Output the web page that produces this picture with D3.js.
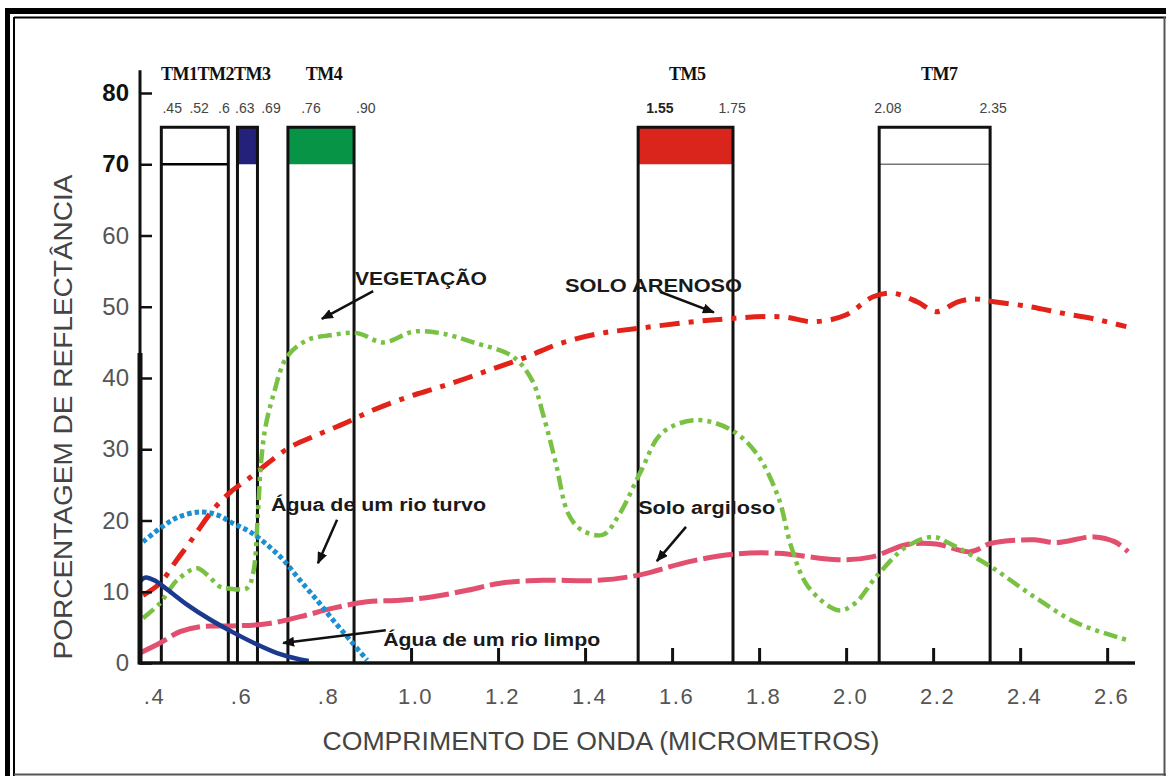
<!DOCTYPE html>
<html>
<head>
<meta charset="utf-8">
<script src="https://cdnjs.cloudflare.com/ajax/libs/d3/7.8.5/d3.min.js"></script>
<style>
  body { margin: 0; background: #fff; }
  svg { display: block; font-family: Arial, "Liberation Sans", sans-serif; }
</style>
</head>
<body>
<div id="chart"></div>
<script>
// ---- data (wavelength in micrometres, reflectance in %) ----
var yTicks = [0, 10, 20, 30, 40, 50, 60, 70, 80];
var xTicks = [0.4, 0.6, 0.8, 1.0, 1.2, 1.4, 1.6, 1.8, 2.0, 2.2, 2.4, 2.6];

// Landsat TM band boxes as drawn (left / right edge), with header colour
var bandBoxes = [
  {start: 0.426, end: 0.580, fill: null,      mid: "#000"},
  {start: 0.601, end: 0.647, fill: "#24217a", mid: null},
  {start: 0.717, end: 0.869, fill: "#079447", mid: null},
  {start: 1.522, end: 1.740, fill: "#da251d", mid: null},
  {start: 2.076, end: 2.331, fill: null,      mid: "#777"}
];
var boxTop = 75.2, boxMid = 70;

var bandNames = [
  {name: "TM1TM2TM3", at: 0.551},
  {name: "TM4", at: 0.800},
  {name: "TM5", at: 1.635},
  {name: "TM7", at: 2.214}
];
var bandLimits = [
  {t: ".45", at: 0.451}, {t: ".52", at: 0.513}, {t: ".6", at: 0.570},
  {t: ".63", at: 0.618}, {t: ".69", at: 0.678}, {t: ".76", at: 0.770},
  {t: ".90", at: 0.896}, {t: "1.55", at: 1.572, bold: true}, {t: "1.75", at: 1.738},
  {t: "2.08", at: 2.096}, {t: "2.35", at: 2.338}
];

var vegetacao = [
  [0.384, 6.3], [0.423, 8.4], [0.462, 11.6], [0.508, 13.3], [0.531, 12.4],
  [0.561, 10.7], [0.577, 10.5], [0.623, 10.5], [0.637, 12.6], [0.648, 21],
  [0.655, 28], [0.665, 33], [0.683, 37.5], [0.715, 43], [0.761, 45.3],
  [0.814, 46], [0.876, 46.3], [0.936, 45], [1.005, 46.5], [1.067, 46.3],
  [1.143, 45], [1.234, 43], [1.278, 39.7], [1.303, 35], [1.333, 28],
  [1.361, 21], [1.391, 18.7], [1.441, 18], [1.48, 21], [1.529, 27],
  [1.577, 32.3], [1.657, 34.1], [1.736, 32.7], [1.793, 29.5], [1.844, 23.3],
  [1.874, 16.3], [1.913, 10.7], [1.982, 7.4], [2.021, 8.4], [2.069, 12.1],
  [2.138, 16.3], [2.2, 17.7], [2.237, 16.8], [2.333, 13.5], [2.432, 9.3],
  [2.531, 5.6], [2.648, 3.2]
];
var soloArenoso = [
  [0.384, 9.5], [0.423, 11.2], [0.462, 14.5], [0.49, 16.8], [0.515, 19],
  [0.545, 21.5], [0.585, 24], [0.625, 25.8], [0.67, 28], [0.722, 30.3],
  [0.784, 32], [0.853, 33.8], [0.913, 35.5], [0.991, 37.3], [1.06, 38.6],
  [1.129, 40], [1.198, 41.5], [1.267, 43], [1.34, 44.8], [1.43, 46.2],
  [1.526, 47], [1.685, 48.1], [1.851, 48.6], [1.924, 47.9], [1.998, 48.8],
  [2.062, 51.4], [2.108, 51.9], [2.163, 50.7], [2.207, 49.3], [2.257, 50.7],
  [2.294, 51.1], [2.34, 50.7], [2.423, 50], [2.497, 49.1], [2.57, 48.3],
  [2.644, 47.2]
];
var soloArgiloso = [
  [0.377, 1.4], [0.423, 2.8], [0.469, 4.4], [0.515, 5.1], [0.591, 5.2],
  [0.669, 5.5], [0.745, 6.5], [0.821, 7.7], [0.899, 8.6], [0.975, 8.8],
  [1.05, 9.3], [1.129, 10.2], [1.205, 11.2], [1.303, 11.6], [1.43, 11.6],
  [1.529, 12.4], [1.637, 14.2], [1.745, 15.3], [1.844, 15.4], [1.982, 14.5],
  [2.06, 14.9], [2.138, 16.6], [2.207, 16.7], [2.285, 15.6], [2.333, 16.8],
  [2.432, 17.3], [2.483, 16.9], [2.57, 17.7], [2.618, 17], [2.648, 15.6]
];
var aguaTurva = [
  [0.384, 17], [0.423, 18.9], [0.462, 20.4], [0.515, 21.2], [0.554, 20.8],
  [0.591, 19.6], [0.63, 18.4], [0.669, 16.6], [0.706, 14.5], [0.745, 11.6],
  [0.784, 8.8], [0.821, 6], [0.86, 3.2], [0.899, 0.4]
];
var aguaLimpa = [
  [0.377, 11.5], [0.39, 12], [0.41, 11.6], [0.44, 10.3], [0.485, 8.2],
  [0.538, 6.1], [0.591, 4.3], [0.646, 2.6], [0.692, 1.4], [0.745, 0.5],
  [0.765, 0.3]
];

// annotation text anchors and arrows (data units)
var notes = [
  {t: "VEGETAÇÃO", at: [0.871, 53.05], len: 132, from: [0.913, 52.2], to: [0.795, 48.3]},
  {t: "SOLO ARENOSO", at: [1.354, 52.1], len: 177, from: [1.572, 52.1], to: [1.696, 49.2]},
  {t: "Água de um rio turvo", at: [0.678, 21.3], len: 215, from: [0.830, 20.1], to: [0.786, 14.0]},
  {t: "Solo argiloso", at: [1.522, 20.9], len: 137, from: [1.632, 19.1], to: [1.565, 14.3]},
  {t: "Água de um rio limpo", at: [0.936, 2.4], len: 217, from: [0.942, 4.6], to: [0.706, 2.8]}
];

var W = 1166, H = 776;
var svg = d3.select("#chart").append("svg").attr("width", W).attr("height", H);

var x = d3.scaleLinear().domain([0.377, 2.664]).range([140, 1135]);
var y = d3.scaleLinear().domain([0, 80]).range([663, 93]);

// frame
var frame = svg.append("g").attr("stroke", "#000").attr("fill", "none");
frame.append("line").attr("x1", 5).attr("x2", W).attr("y1", 11).attr("y2", 11).attr("stroke-width", 6);
frame.append("line").attr("x1", 7.5).attr("x2", 7.5).attr("y1", 8).attr("y2", H).attr("stroke-width", 5);
frame.append("line").attr("x1", 14).attr("x2", W).attr("y1", 17.5).attr("y2", 17.5).attr("stroke-width", 2);
frame.append("line").attr("x1", 14).attr("x2", 14).attr("y1", 17).attr("y2", H).attr("stroke-width", 2);
frame.append("line").attr("x1", 14).attr("x2", W).attr("y1", 774.5).attr("y2", 774.5).attr("stroke-width", 2).attr("stroke", "#555");
frame.append("line").attr("x1", W - 1.5).attr("x2", W - 1.5).attr("y1", 17).attr("y2", H).attr("stroke-width", 2).attr("stroke", "#555");

// band boxes
var boxes = svg.append("g");
bandBoxes.forEach(function(b) {
  if (b.fill) {
    boxes.append("rect")
      .attr("x", x(b.start)).attr("y", y(boxTop))
      .attr("width", x(b.end) - x(b.start)).attr("height", y(boxMid) - y(boxTop))
      .attr("fill", b.fill);
  }
  if (b.mid) {
    boxes.append("line")
      .attr("x1", x(b.start)).attr("x2", x(b.end))
      .attr("y1", y(boxMid)).attr("y2", y(boxMid))
      .attr("stroke", b.mid).attr("stroke-width", b.mid == "#000" ? 2.5 : 1.5);
  }
  boxes.append("path")
    .attr("d", "M" + x(b.start) + "," + y(0) + "V" + y(boxTop) + "H" + x(b.end) + "V" + y(0))
    .attr("fill", "none").attr("stroke", "#111").attr("stroke-width", 3);
});

svg.append("g").selectAll("text").data(bandNames).enter().append("text")
  .attr("x", function(d) { return x(d.at); })
  .attr("y", 80)
  .attr("text-anchor", "middle")
  .attr("font-family", "'Liberation Serif', 'Times New Roman', serif")
  .attr("font-weight", "bold")
  .attr("font-size", 18)
  .attr("letter-spacing", -0.5)
  .attr("fill", "#111")
  .text(function(d) { return d.name; });

svg.append("g").selectAll("text").data(bandLimits).enter().append("text")
  .attr("x", function(d) { return x(d.at); })
  .attr("y", 113)
  .attr("text-anchor", "middle")
  .attr("font-size", 14)
  .attr("font-weight", function(d) { return d.bold ? "bold" : "normal"; })
  .attr("fill", function(d) { return d.bold ? "#222" : "#444"; })
  .text(function(d) { return d.t; });

// curves
var line = d3.line()
  .x(function(d) { return x(d[0]); })
  .y(function(d) { return y(d[1]); })
  .curve(d3.curveCatmullRom.alpha(0.5));

var series = [
  {data: soloArgiloso, color: "#e34f6f", w: 5, dash: "30 6"},
  {data: soloArenoso, color: "#e2231a", w: 5, dash: "20 9 5 9"},
  {data: vegetacao, color: "#79c143", w: 4.5, dash: "14 5 4 5 4 5"},
  {data: aguaTurva, color: "#1b8fd2", w: 5, dash: "4.5 3"},
  {data: aguaLimpa, color: "#1b3a8e", w: 4.5, dash: null}
];
svg.append("g").selectAll("path").data(series).enter().append("path")
  .attr("d", function(d) { return line(d.data); })
  .attr("fill", "none")
  .attr("stroke", function(d) { return d.color; })
  .attr("stroke-width", function(d) { return d.w; })
  .attr("stroke-dasharray", function(d) { return d.dash; });

// axes
var xAxis = svg.append("g")
  .attr("transform", "translate(0," + y(0) + ")")
  .call(d3.axisBottom(x).tickValues(xTicks).tickSizeInner(-15).tickSizeOuter(0).tickPadding(25)
    .tickFormat(function(d) { var s = d3.format(".1f")(d); return d < 1 ? s.slice(1) : s; }));
xAxis.select(".domain").remove();
xAxis.selectAll(".tick line").attr("stroke", "#111").attr("stroke-width", 3)
  .filter(function(d) { return d < 1; }).remove();
xAxis.selectAll(".tick text")
  .attr("font-size", 22).attr("fill", "#555").attr("letter-spacing", 1.5).attr("dx", 4)
  .attr("font-family", "Arial, 'Liberation Sans', sans-serif");
svg.append("line")
  .attr("x1", x.range()[0]).attr("x2", x.range()[1])
  .attr("y1", y(0)).attr("y2", y(0))
  .attr("stroke", "#111").attr("stroke-width", 3.5);

var yAxis = svg.append("g")
  .attr("transform", "translate(" + x.range()[0] + ",0)")
  .call(d3.axisLeft(y).tickValues(yTicks).tickSizeInner(-12).tickSizeOuter(0).tickPadding(11));
yAxis.select(".domain").remove();
yAxis.selectAll(".tick line").attr("stroke", "#111").attr("stroke-width", 2.5);
yAxis.selectAll(".tick text")
  .attr("font-size", 24)
  .attr("font-family", "Arial, 'Liberation Sans', sans-serif")
  .attr("font-weight", function(d) { return d >= 70 ? "bold" : "normal"; })
  .attr("fill", function(d) { return d >= 70 ? "#111" : "#555"; });
svg.append("line")
  .attr("x1", x.range()[0]).attr("x2", x.range()[0])
  .attr("y1", y(0) + 1.5).attr("y2", y(83.2))
  .attr("stroke", "#111").attr("stroke-width", 3);
svg.append("line")
  .attr("x1", x.range()[0]).attr("x2", x.range()[0])
  .attr("y1", y(0) + 1.5).attr("y2", y(43.5))
  .attr("stroke", "#111").attr("stroke-width", 5);

// axis titles
svg.append("text")
  .attr("x", 601).attr("y", 750)
  .attr("text-anchor", "middle")
  .attr("font-size", 25).attr("fill", "#444")
  .attr("textLength", 557).attr("lengthAdjust", "spacingAndGlyphs")
  .text("COMPRIMENTO DE ONDA (MICROMETROS)");
svg.append("text")
  .attr("transform", "translate(72,417) rotate(-90)")
  .attr("text-anchor", "middle")
  .attr("font-size", 25).attr("fill", "#444")
  .attr("textLength", 485).attr("lengthAdjust", "spacingAndGlyphs")
  .text("PORCENTAGEM DE REFLECTÂNCIA");

// annotations
svg.append("defs").append("marker")
  .attr("id", "head").attr("viewBox", "0 0 12 10")
  .attr("refX", 11).attr("refY", 5)
  .attr("markerWidth", 12).attr("markerHeight", 10)
  .attr("markerUnits", "userSpaceOnUse")
  .attr("orient", "auto")
  .append("path").attr("d", "M0,0L12,5L0,10z").attr("fill", "#111");

var ann = svg.append("g");
notes.forEach(function(n) {
  ann.append("line")
    .attr("x1", x(n.from[0])).attr("y1", y(n.from[1]))
    .attr("x2", x(n.to[0])).attr("y2", y(n.to[1]))
    .attr("stroke", "#111").attr("stroke-width", 2.5)
    .attr("marker-end", "url(#head)");
  ann.append("text")
    .attr("x", x(n.at[0])).attr("y", y(n.at[1]))
    .attr("font-size", 18).attr("font-weight", "bold").attr("fill", "#1a1a1a")
    .attr("textLength", n.len).attr("lengthAdjust", "spacingAndGlyphs")
    .text(n.t);
});
</script>
</body>
</html>
